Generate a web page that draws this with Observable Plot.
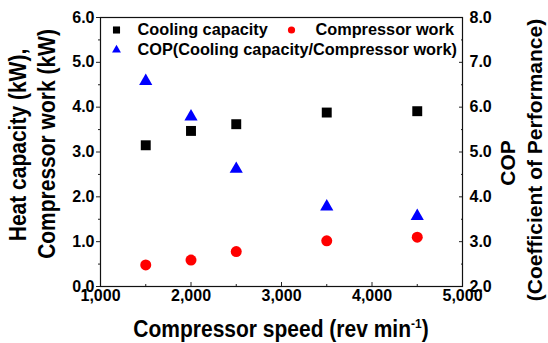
<!DOCTYPE html>
<html><head><meta charset="utf-8">
<script src="https://cdn.jsdelivr.net/npm/d3@7"></script>
<script src="https://cdn.jsdelivr.net/npm/@observablehq/plot@0.6"></script>
<style>
body{margin:0;background:#fff;}
#chart{position:relative;width:548px;height:343px;}
#chart svg{font-family:"Liberation Sans",Arial,sans-serif;font-weight:bold;}
</style></head><body><div id="chart"></div>
<script>
const speeds = [1500, 2000, 2500, 3500, 4500];
const coolingCapacity = [3.15, 3.47, 3.62, 3.88, 3.91];
const compressorWork = [0.48, 0.59, 0.78, 1.02, 1.10];
const cop = [6.58, 5.79, 4.62, 3.78, 3.57];
const seriesNames = ["Cooling capacity", "Compressor work", "COP(Cooling capacity/Compressor work)"];
const seriesColors = ["#000000", "#ff0000", "#0000ff"];
const seriesSymbols = ["square", "circle", "triangle"];
const xTicks = [1000, 2000, 3000, 4000, 5000];
const xMinorTicks = [1500, 2500, 3500, 4500];
const leftTicks = [0, 1, 2, 3, 4, 5, 6];
const leftMinorTicks = [0.5, 1.5, 2.5, 3.5, 4.5, 5.5];
const rightTicks = [2, 3, 4, 5, 6, 7, 8];
const rightMinorTicks = [2.5, 3.5, 4.5, 5.5, 6.5, 7.5];
const leftTitle = ["Heat capacity (kW),", "Compressor work (kW)"];
const rightTitle = ["COP", "(Coefficient of Performance)"];
const xTitle = ["Compressor speed (rev min", "-1", ")"];

const leftDomain = [0, 6];
const rightDomain = [2, 8];
const toLeft = v => (v - rightDomain[0]) / (rightDomain[1] - rightDomain[0]) * (leftDomain[1] - leftDomain[0]) + leftDomain[0];
const toRight = v => (v - leftDomain[0]) / (leftDomain[1] - leftDomain[0]) * (rightDomain[1] - rightDomain[0]) + rightDomain[0];

const capData = speeds.map((s, i) => ({speed: s, value: coolingCapacity[i]}));
const workData = speeds.map((s, i) => ({speed: s, value: compressorWork[i]}));
const copData = speeds.map((s, i) => ({speed: s, value: toLeft(cop[i])}));

const fmt1 = d3.format(".1f");
const fs = 16;

const chart = Plot.plot({
  width: 548,
  height: 343,
  marginLeft: 100,
  marginRight: 86,
  marginTop: 17,
  marginBottom: 57,
  style: {fontFamily: '"Liberation Sans", Arial, sans-serif', fontWeight: "bold", background: "#fff", color: "#000"},
  x: {domain: [1000, 5000]},
  y: {domain: leftDomain},
  marks: [
    Plot.axisX({ticks: xTicks, tickFormat: d3.format(","), tickSize: -4, tickPadding: 7, fontSize: fs, label: null, stroke: "#222", fill: "#000"}),
    Plot.axisX({ticks: xMinorTicks, tickFormat: () => "", tickSize: -2, label: null, stroke: "#222"}),
    Plot.axisY({ticks: leftTicks, tickFormat: fmt1, tickSize: 4, tickPadding: 2, fontSize: fs, label: null, stroke: "#222", fill: "#000"}),
    Plot.axisY({ticks: leftMinorTicks, tickFormat: () => "", tickSize: 2, label: null, stroke: "#222"}),
    Plot.axisY({anchor: "right", ticks: rightTicks.map(toLeft), tickFormat: d => fmt1(toRight(d)), tickSize: -4, tickPadding: 11, fontSize: fs, label: null, stroke: "#222", fill: "#000"}),
    Plot.axisY({anchor: "right", ticks: rightMinorTicks.map(toLeft), tickFormat: () => "", tickSize: -2, label: null, stroke: "#222"}),
    Plot.frame({stroke: "#111", strokeWidth: 1.2}),
    Plot.dot(capData, {x: "speed", y: "value", symbol: seriesSymbols[0], fill: seriesColors[0], r: 5.6}),
    Plot.dot(workData, {x: "speed", y: "value", symbol: seriesSymbols[1], fill: seriesColors[1], r: 5.5}),
    Plot.dot(copData, {x: "speed", y: "value", symbol: seriesSymbols[2], fill: seriesColors[2], r: 4.9}),
    Plot.dot([seriesNames[0]], {frameAnchor: "top-left", dx: 16, dy: 12.5, symbol: seriesSymbols[0], fill: seriesColors[0], r: 4}),
    Plot.text([seriesNames[0]], {frameAnchor: "top-left", dx: 37, dy: 12.5, text: d => d, textAnchor: "start", lineAnchor: "middle", fontSize: 16.3, fill: "#000"}),
    Plot.dot([seriesNames[1]], {frameAnchor: "top-left", dx: 191, dy: 12.5, symbol: seriesSymbols[1], fill: seriesColors[1], r: 3.6}),
    Plot.text([seriesNames[1]], {frameAnchor: "top-left", dx: 215, dy: 12.5, text: d => d, textAnchor: "start", lineAnchor: "middle", fontSize: 16.3, fill: "#000"}),
    Plot.dot([seriesNames[2]], {frameAnchor: "top-left", dx: 16, dy: 32.5, symbol: seriesSymbols[2], fill: seriesColors[2], r: 3.3}),
    Plot.text([seriesNames[2]], {frameAnchor: "top-left", dx: 37, dy: 32.5, text: d => d, textAnchor: "start", lineAnchor: "middle", fontSize: 16.3, fill: "#000"})
  ]
});

const svg = d3.select(chart);
const titles = svg.append("g").attr("font-size", 21).attr("font-weight", "bold").attr("fill", "#000").attr("text-anchor", "middle");
titles.append("text").attr("transform", "translate(26,145) rotate(-90) scale(1,1.1)").text(leftTitle[0]);
titles.append("text").attr("transform", "translate(55,144) rotate(-90) scale(1,1.1)").text(leftTitle[1]);
titles.append("text").attr("transform", "translate(515,163) rotate(-90)").text(rightTitle[0]);
titles.append("text").attr("transform", "translate(542,160) rotate(-90)").text(rightTitle[1]);
const xt = titles.append("text").attr("transform", "translate(281,337) scale(1,1.1)");
xt.append("tspan").text(xTitle[0]);
xt.append("tspan").attr("font-size", 12).attr("dy", -8).text(xTitle[1]);
xt.append("tspan").attr("dy", 8).text(xTitle[2]);

document.getElementById("chart").appendChild(chart);
</script></body></html>
